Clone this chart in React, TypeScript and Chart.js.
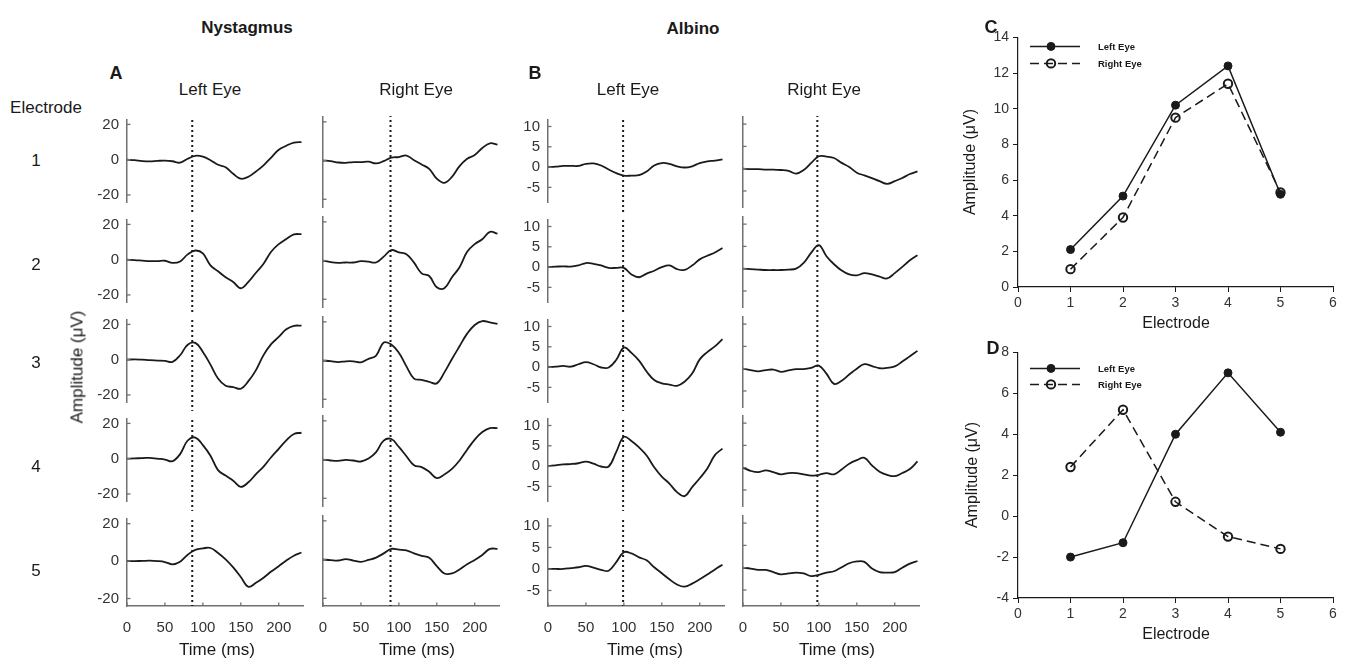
import React, { useEffect, useRef } from 'react';
import { Chart, registerables } from 'chart.js';
Chart.register(...registerables);

// ---------- data ----------
const TIME_MS = [0, 10, 20, 30, 40, 50, 60, 70, 80, 90, 100, 110, 120, 130, 140, 150, 160, 170, 180, 190, 200, 210, 220, 230];
const TIME_TICKS = [0, 50, 100, 150, 200];
const NYS_AMP_TICKS = [-20, 0, 20];
const ALB_AMP_TICKS = [-5, 0, 5, 10];

// Nystagmus, left eye, electrodes 1-5 (µV)
const NYS_LE_1 = [0, -0.3, -0.8, -1.0, -0.7, -0.5, -0.9, -1.7, 0.5, 2.2, 1.7, -0.3, -2.9, -4.3, -8.0, -10.8, -9.7, -6.7, -3.2, 1.2, 5.6, 7.9, 9.7, 10.0];
const NYS_LE_2 = [0, -0.2, -0.5, -0.8, -0.8, -0.6, -1.8, -1.0, 3.0, 5.2, 3.6, -3.2, -6.6, -10.0, -12.6, -16.2, -12.6, -7.4, -2.3, 4.5, 8.8, 11.7, 14.3, 14.5];
const NYS_LE_3 = [0, 0.2, 0, -0.3, -0.5, -0.7, -1.2, 2.5, 8.5, 9.5, 4.4, -2.8, -10.7, -14.8, -15.5, -16.5, -12.2, -5.9, 2.6, 8.8, 12.9, 17.2, 19.2, 19.3];
const NYS_LE_4 = [0, 0.2, 0.3, 0.5, 0, -0.5, -1.4, 2.6, 10.3, 12.0, 7.7, 1.7, -6.5, -9.6, -12.5, -16.0, -13.4, -8.8, -4.5, 0.8, 5.6, 10.4, 14.0, 14.7];
const NYS_LE_5 = [0, 0, 0.1, 0.2, 0, -0.5, -1.7, -0.3, 3.4, 6.0, 6.8, 7.0, 4.3, 0.9, -3.4, -8.5, -13.7, -11.6, -8.9, -5.6, -2.7, 0.3, 2.9, 4.6];
// Nystagmus, right eye
const NYS_RE_1 = [0, -0.3, -1.0, -1.2, -0.8, -0.8, -0.6, -1.5, -0.3, 1.5, 1.8, 2.6, 0.2, -2.0, -4.3, -9.4, -11.5, -8.4, -2.9, 0.9, 2.9, 6.5, 8.9, 8.2];
const NYS_RE_2 = [0, -0.8, -1.2, -1.0, -1.0, -0.3, -0.6, -1.0, 2.0, 5.4, 4.2, 3.3, -1.1, -6.6, -8.0, -13.8, -14.3, -8.6, -3.5, 4.5, 8.5, 11.0, 14.8, 13.9];
const NYS_RE_3 = [0, -0.3, -0.8, -0.4, -0.4, -0.9, 0.9, 2.6, 9.3, 8.3, 4.0, -3.0, -9.3, -10.0, -11.0, -11.8, -6.1, 0.8, 7.4, 13.9, 18.4, 20.4, 19.7, 18.9];
const NYS_RE_4 = [0, -0.5, -0.7, -0.2, -0.5, -1.0, 0.5, 3.8, 9.8, 10.6, 6.5, 1.7, -2.9, -3.9, -6.3, -9.6, -7.7, -4.8, -0.5, 5.1, 10.3, 14.2, 16.2, 16.2];
const NYS_RE_5 = [0, -0.3, -0.5, 0.2, -0.5, -1.2, -0.2, 1.0, 3.2, 5.5, 5.1, 4.8, 3.2, 1.9, 0.9, -3.4, -7.2, -7.2, -5.1, -2.4, -0.2, 2.4, 5.5, 5.5];
// Albino, left eye
const ALB_LE_1 = [0, 0.1, 0.3, 0.3, 0.3, 0.8, 0.9, 0.4, -0.6, -1.5, -2.1, -2.1, -2.0, -1.1, 0.4, 1.0, 0.8, 0.2, -0.1, 0.2, 1.0, 1.4, 1.6, 1.9];
const ALB_LE_2 = [0, 0.1, 0.2, 0.1, 0.4, 1.0, 0.8, 0.4, -0.2, -0.2, -0.2, -1.8, -2.5, -1.6, -0.9, 0, 0.4, -0.5, -0.7, 0.4, 1.9, 2.8, 3.6, 4.7];
const ALB_LE_3 = [0, 0.1, 0.3, 0.1, 0.7, 1.2, 0.7, -0.1, -0.1, 1.8, 4.8, 3.5, 1.6, -1.1, -3.2, -4.0, -4.3, -4.6, -3.6, -1.6, 1.9, 3.7, 5.1, 6.9];
const ALB_LE_4 = [0, 0.2, 0.4, 0.5, 0.7, 1.1, 0.6, -0.1, -0.1, 3.5, 7.2, 6.2, 4.6, 2.6, -0.3, -2.6, -4.3, -6.4, -7.4, -5.2, -3.0, -0.6, 2.7, 4.3];
const ALB_LE_5 = [0, 0, 0, 0.2, 0.4, 0.7, 0.3, -0.2, -0.4, 1.6, 3.9, 3.6, 2.7, 2.0, 0.4, -1.0, -2.4, -3.6, -4.1, -3.4, -2.4, -1.3, -0.1, 1.0];
// Albino, right eye
const ALB_RE_1 = [0, -0.1, -0.1, -0.2, -0.2, -0.3, -0.5, -1.1, -0.3, 1.3, 2.8, 2.7, 2.4, 1.3, 0.4, -0.9, -1.5, -2.1, -2.8, -3.4, -2.8, -2.1, -1.2, -0.6];
const ALB_RE_2 = [0, -0.1, -0.2, -0.3, -0.3, -0.3, -0.2, 0, 1.3, 3.6, 5.3, 2.8, 1.0, -0.4, -1.3, -1.5, -1.0, -1.3, -1.8, -2.2, -1.0, 0.4, 1.9, 3.0];
const ALB_RE_3 = [0, -0.3, -0.6, -0.3, -0.2, -0.7, -0.4, -0.1, -0.1, 0.2, 0.7, -1.1, -3.4, -2.7, -1.3, 0, 1.0, 0.6, 0.1, 0.2, 0.5, 1.6, 2.8, 4.0];
const ALB_RE_4 = [0, -0.7, -1.0, -0.6, -1.0, -1.5, -1.2, -1.2, -1.5, -1.8, -1.6, -1.2, -1.5, -0.4, 0.9, 1.7, 2.2, 0.5, -0.9, -1.6, -1.9, -1.2, -0.3, 1.4];
const ALB_RE_5 = [0, -0.2, -0.5, -0.5, -1.0, -1.5, -1.3, -1.1, -1.3, -1.9, -1.6, -1.1, -0.8, 0.1, 1.0, 1.4, 1.3, -0.2, -1.0, -1.1, -1.0, 0, 0.9, 1.5];

// dotted reference latency (ms) per column
const NYS_LE_PEAK = 86;
const NYS_RE_PEAK = 89;
const ALB_LE_PEAK = 99;
const ALB_RE_PEAK = 98;

// Panels C and D
const ELECTRODES = [1, 2, 3, 4, 5];
const ELECTRODE_TICKS = [0, 1, 2, 3, 4, 5, 6];
const C_LEFT_EYE = [2.1, 5.1, 10.2, 12.4, 5.2];
const C_RIGHT_EYE = [1.0, 3.9, 9.5, 11.4, 5.3];
const C_AMP_TICKS = [0, 2, 4, 6, 8, 10, 12, 14];
const D_LEFT_EYE = [-2.0, -1.3, 4.0, 7.0, 4.1];
const D_RIGHT_EYE = [2.4, 5.2, 0.7, -1.0, -1.6];
const D_AMP_TICKS = [-4, -2, 0, 2, 4, 6, 8];
const SERIES_NAMES = ['Left Eye', 'Right Eye'];
const ROW_LABELS = ['1', '2', '3', '4', '5'];

// ---------- styling ----------
const FONT = "'Liberation Sans', Arial, Helvetica, sans-serif";
const INK = '#1a1a1a';
const AXIS = '#707070';
const TICK_TXT = '#333333';

const markerLine = {
  id: 'markerLine',
  afterDatasetsDraw(chart: any, _a: any, o: any) {
    const { ctx, chartArea } = chart;
    const x = chart.scales.x.getPixelForValue(o.value);
    const y0 = chartArea.top - (o.first ? 1 : 0);
    const y1 = o.last ? chartArea.bottom : chartArea.bottom + o.extend;
    ctx.save();
    ctx.strokeStyle = INK;
    ctx.lineWidth = 2;
    ctx.setLineDash([2, 3]);
    ctx.lineDashOffset = (o.absTop + y0) % 5;
    ctx.beginPath();
    ctx.moveTo(x, y0);
    ctx.lineTo(x, y1);
    ctx.stroke();
    ctx.restore();
  },
};

const innerTicks = {
  id: 'innerTicks',
  afterDraw(chart: any, _a: any, o: any) {
    const { ctx, chartArea } = chart;
    ctx.save();
    ctx.strokeStyle = AXIS;
    ctx.lineWidth = 1.3;
    const ys = chart.scales.y;
    for (const t of ys.ticks) {
      const py = ys.getPixelForValue(t.value);
      ctx.beginPath();
      ctx.moveTo(chartArea.left, py);
      ctx.lineTo(chartArea.left + 3.5, py);
      ctx.stroke();
    }
    if (o.showX) {
      const xs = chart.scales.x;
      for (const t of xs.ticks) {
        const px = xs.getPixelForValue(t.value);
        ctx.beginPath();
        ctx.moveTo(px, chartArea.bottom);
        ctx.lineTo(px, chartArea.bottom - 3.5);
        ctx.stroke();
      }
    }
    ctx.restore();
  },
};

const lineLegend = {
  id: 'lineLegend',
  afterDraw(chart: any, _a: any, o: any) {
    const { ctx, chartArea } = chart;
    chart.data.datasets.forEach((ds: any, i: number) => {
      const y = chartArea.top + o.y[i];
      const x0 = chartArea.left + o.x0;
      const x1 = chartArea.left + o.x1;
      ctx.save();
      ctx.strokeStyle = ds.borderColor;
      ctx.lineWidth = ds.borderWidth;
      ctx.setLineDash(ds.borderDash || []);
      ctx.beginPath();
      ctx.moveTo(x0, y);
      ctx.lineTo(x1, y);
      ctx.stroke();
      ctx.setLineDash([]);
      ctx.beginPath();
      ctx.arc((x0 + x1) / 2 - 4, y, ds.pointRadius, 0, Math.PI * 2);
      ctx.fillStyle = ds.pointBackgroundColor;
      ctx.fill();
      ctx.lineWidth = ds.pointBorderWidth;
      ctx.strokeStyle = ds.pointBorderColor;
      ctx.stroke();
      ctx.fillStyle = INK;
      ctx.font = `bold 9.5px ${FONT}`;
      ctx.textBaseline = 'middle';
      ctx.fillText(ds.label, chartArea.left + o.tx, y + 0.5);
      ctx.restore();
    });
  },
};

// ---------- components ----------
const PLOT_W = 176;
const PLOT_H = 90;
const ROW_TOPS = [117, 217, 317, 416, 516];

type WaveProps = {
  values: number[];
  peak: number;
  plotLeft: number;
  row: number;
  yW: number;
  showLabels: boolean;
  yMin: number;
  yMax: number;
  yTicks: number[];
};

function Wave(p: WaveProps) {
  const ref = useRef<HTMLCanvasElement>(null);
  const last = p.row === 4;
  const plotTop = ROW_TOPS[p.row];
  const padTop = 14;
  const padBottom = last ? 0 : 12;
  const xH = last ? 34 : 0;
  const padRight = 8;
  const W = p.yW + PLOT_W + padRight;
  const H = padTop + PLOT_H + padBottom + xH;
  const absTop = plotTop - padTop;
  const extend = last ? 0 : ROW_TOPS[p.row + 1] - (plotTop + PLOT_H);

  useEffect(() => {
    const chart = new Chart(ref.current as HTMLCanvasElement, {
      type: 'line',
      data: {
        datasets: [
          {
            data: TIME_MS.map((t, i) => ({ x: t, y: p.values[i] })),
            borderColor: INK,
            borderWidth: 1.8,
            pointRadius: 0,
            tension: 0.4,
            fill: false,
          },
        ],
      },
      options: {
        responsive: false,
        animation: false,
        events: [],
        layout: { padding: { top: padTop, bottom: padBottom, left: 0, right: padRight } },
        plugins: {
          legend: { display: false },
          tooltip: { enabled: false },
          markerLine: { value: p.peak, first: p.row === 0, last, extend, absTop },
          innerTicks: { showX: last },
        } as any,
        scales: {
          x: {
            type: 'linear',
            min: 0,
            max: 232,
            display: last,
            afterBuildTicks: (s: any) => {
              s.ticks = TIME_TICKS.map((v) => ({ value: v }));
            },
            afterFit: (s: any) => {
              s.height = xH;
            },
            grid: { display: false, drawTicks: false },
            border: { display: true, color: AXIS, width: 1.5 },
            ticks: { padding: 13, font: { family: FONT, size: 15 }, color: TICK_TXT, maxRotation: 0, autoSkip: false },
          },
          y: {
            type: 'linear',
            min: p.yMin,
            max: p.yMax,
            afterBuildTicks: (s: any) => {
              s.ticks = p.yTicks.map((v) => ({ value: v }));
            },
            afterFit: (s: any) => {
              s.width = p.yW;
            },
            grid: { display: false, drawTicks: false },
            border: { display: true, color: AXIS, width: 1.5 },
            ticks: { display: p.showLabels, padding: 8, font: { family: FONT, size: 15 }, color: TICK_TXT, autoSkip: false },
          },
        },
      } as any,
      plugins: [markerLine, innerTicks],
    });
    return () => chart.destroy();
  }, []);

  return (
    <canvas
      ref={ref}
      width={W}
      height={H}
      style={{ position: 'absolute', left: p.plotLeft - p.yW, top: absTop, width: W, height: H }}
    />
  );
}

type ElecProps = {
  plotLeft: number;
  plotTop: number;
  plotW: number;
  plotH: number;
  left: number[];
  right: number[];
  yTicks: number[];
  legendY: number[];
};

function ElectrodePanel(p: ElecProps) {
  const ref = useRef<HTMLCanvasElement>(null);
  const yW = 50;
  const padTop = 12;
  const padRight = 12;
  const xH = 34;
  const W = yW + p.plotW + padRight;
  const H = padTop + p.plotH + xH;

  useEffect(() => {
    const chart = new Chart(ref.current as HTMLCanvasElement, {
      type: 'line',
      data: {
        datasets: [
          {
            label: SERIES_NAMES[0],
            data: ELECTRODES.map((e, i) => ({ x: e, y: p.left[i] })),
            borderColor: INK,
            borderWidth: 1.5,
            pointRadius: 4,
            pointBorderWidth: 1,
            pointBackgroundColor: INK,
            pointBorderColor: INK,
            tension: 0,
          },
          {
            label: SERIES_NAMES[1],
            data: ELECTRODES.map((e, i) => ({ x: e, y: p.right[i] })),
            borderColor: INK,
            borderWidth: 1.5,
            borderDash: [9, 5],
            pointRadius: 4.2,
            pointBorderWidth: 2,
            pointBackgroundColor: 'rgba(0,0,0,0)',
            pointBorderColor: INK,
            tension: 0,
          },
        ],
      },
      options: {
        responsive: false,
        animation: false,
        events: [],
        layout: { padding: { top: padTop, right: padRight, left: 0, bottom: 0 } },
        plugins: {
          legend: { display: false },
          tooltip: { enabled: false },
          lineLegend: { x0: 12, x1: 62, tx: 80, y: p.legendY },
        } as any,
        scales: {
          x: {
            type: 'linear',
            min: ELECTRODE_TICKS[0],
            max: ELECTRODE_TICKS[ELECTRODE_TICKS.length - 1],
            afterBuildTicks: (s: any) => {
              s.ticks = ELECTRODE_TICKS.map((v) => ({ value: v }));
            },
            afterFit: (s: any) => {
              s.height = xH;
            },
            grid: { display: true, drawOnChartArea: false, drawTicks: true, tickLength: 5, color: INK, lineWidth: 1 },
            border: { display: true, color: INK, width: 1.2 },
            ticks: { padding: 3, font: { family: FONT, size: 14 }, color: TICK_TXT, maxRotation: 0, autoSkip: false },
          },
          y: {
            type: 'linear',
            min: p.yTicks[0],
            max: p.yTicks[p.yTicks.length - 1],
            afterBuildTicks: (s: any) => {
              s.ticks = p.yTicks.map((v) => ({ value: v }));
            },
            afterFit: (s: any) => {
              s.width = yW;
            },
            grid: { display: true, drawOnChartArea: false, drawTicks: true, tickLength: 5, color: INK, lineWidth: 1 },
            border: { display: true, color: INK, width: 1.2 },
            ticks: { padding: 4, font: { family: FONT, size: 14 }, color: TICK_TXT, autoSkip: false },
          },
        },
      } as any,
      plugins: [lineLegend],
    });
    return () => chart.destroy();
  }, []);

  return (
    <canvas
      ref={ref}
      width={W}
      height={H}
      style={{ position: 'absolute', left: p.plotLeft - yW, top: p.plotTop - padTop, width: W, height: H }}
    />
  );
}

function Txt(props: { x: number; y: number; size?: number; bold?: boolean; rotate?: boolean; children: React.ReactNode }) {
  const { x, y, size = 17, bold = false, rotate = false } = props;
  return (
    <div
      style={{
        position: 'absolute',
        left: x,
        top: y,
        transform: `translate(-50%, -50%)${rotate ? ' rotate(-90deg)' : ''}`,
        font: `${bold ? 'bold ' : ''}${size}px ${FONT}`,
        color: INK,
        whiteSpace: 'nowrap',
        lineHeight: 1,
      }}
    >
      {props.children}
    </div>
  );
}

const NYS_LE = [NYS_LE_1, NYS_LE_2, NYS_LE_3, NYS_LE_4, NYS_LE_5];
const NYS_RE = [NYS_RE_1, NYS_RE_2, NYS_RE_3, NYS_RE_4, NYS_RE_5];
const ALB_LE = [ALB_LE_1, ALB_LE_2, ALB_LE_3, ALB_LE_4, ALB_LE_5];
const ALB_RE = [ALB_RE_1, ALB_RE_2, ALB_RE_3, ALB_RE_4, ALB_RE_5];

export default function App() {
  const cols = [
    { series: NYS_LE, peak: NYS_LE_PEAK, plotLeft: 127, yW: 44, labels: true, yMin: -24, yMax: 22.5, ticks: NYS_AMP_TICKS },
    { series: NYS_RE, peak: NYS_RE_PEAK, plotLeft: 323, yW: 22, labels: false, yMin: -24, yMax: 22.5, ticks: NYS_AMP_TICKS },
    { series: ALB_LE, peak: ALB_LE_PEAK, plotLeft: 548, yW: 44, labels: true, yMin: -8.6, yMax: 11.6, ticks: ALB_AMP_TICKS },
    { series: ALB_RE, peak: ALB_RE_PEAK, plotLeft: 743, yW: 22, labels: false, yMin: -8.6, yMax: 11.6, ticks: ALB_AMP_TICKS },
  ];
  const rowLabelY = [160, 264, 362, 466, 570];
  return (
    <div style={{ position: 'absolute', left: 0, top: 0, width: 1347, height: 661, background: '#fff', overflow: 'hidden' }}>
      {cols.map((c, ci) =>
        c.series.map((vals, r) => (
          <Wave
            key={`${ci}-${r}`}
            values={vals}
            peak={c.peak}
            plotLeft={c.plotLeft}
            row={r}
            yW={c.yW}
            showLabels={c.labels}
            yMin={c.yMin}
            yMax={c.yMax}
            yTicks={c.ticks}
          />
        ))
      )}
      <ElectrodePanel plotLeft={1018} plotTop={37} plotW={315} plotH={250} left={C_LEFT_EYE} right={C_RIGHT_EYE} yTicks={C_AMP_TICKS} legendY={[9, 26]} />
      <ElectrodePanel plotLeft={1018} plotTop={352} plotW={315} plotH={246} left={D_LEFT_EYE} right={D_RIGHT_EYE} yTicks={D_AMP_TICKS} legendY={[16, 32]} />

      <Txt x={247} y={27} bold size={17}>Nystagmus</Txt>
      <Txt x={693} y={28} bold size={17}>Albino</Txt>
      <Txt x={116} y={73} bold size={18}>A</Txt>
      <Txt x={535} y={73} bold size={18}>B</Txt>
      <Txt x={991} y={27} bold size={18}>C</Txt>
      <Txt x={993} y={348} bold size={18}>D</Txt>
      <Txt x={210} y={89}>Left Eye</Txt>
      <Txt x={416} y={89}>Right Eye</Txt>
      <Txt x={628} y={89}>Left Eye</Txt>
      <Txt x={824} y={89}>Right Eye</Txt>
      <Txt x={46} y={107}>Electrode</Txt>
      {ROW_LABELS.map((l, i) => (
        <Txt key={l} x={36} y={rowLabelY[i]}>{l}</Txt>
      ))}
      <Txt x={76.5} y={367} rotate>Amplitude (μV)</Txt>
      <Txt x={217} y={649}>Time (ms)</Txt>
      <Txt x={417} y={649}>Time (ms)</Txt>
      <Txt x={645} y={649}>Time (ms)</Txt>
      <Txt x={837} y={649}>Time (ms)</Txt>
      <Txt x={1176} y={323} size={16}>Electrode</Txt>
      <Txt x={1176} y={634} size={16}>Electrode</Txt>
      <Txt x={970} y={162} size={16} rotate>Amplitude (μV)</Txt>
      <Txt x={972} y={475} size={16} rotate>Amplitude (μV)</Txt>
    </div>
  );
}
